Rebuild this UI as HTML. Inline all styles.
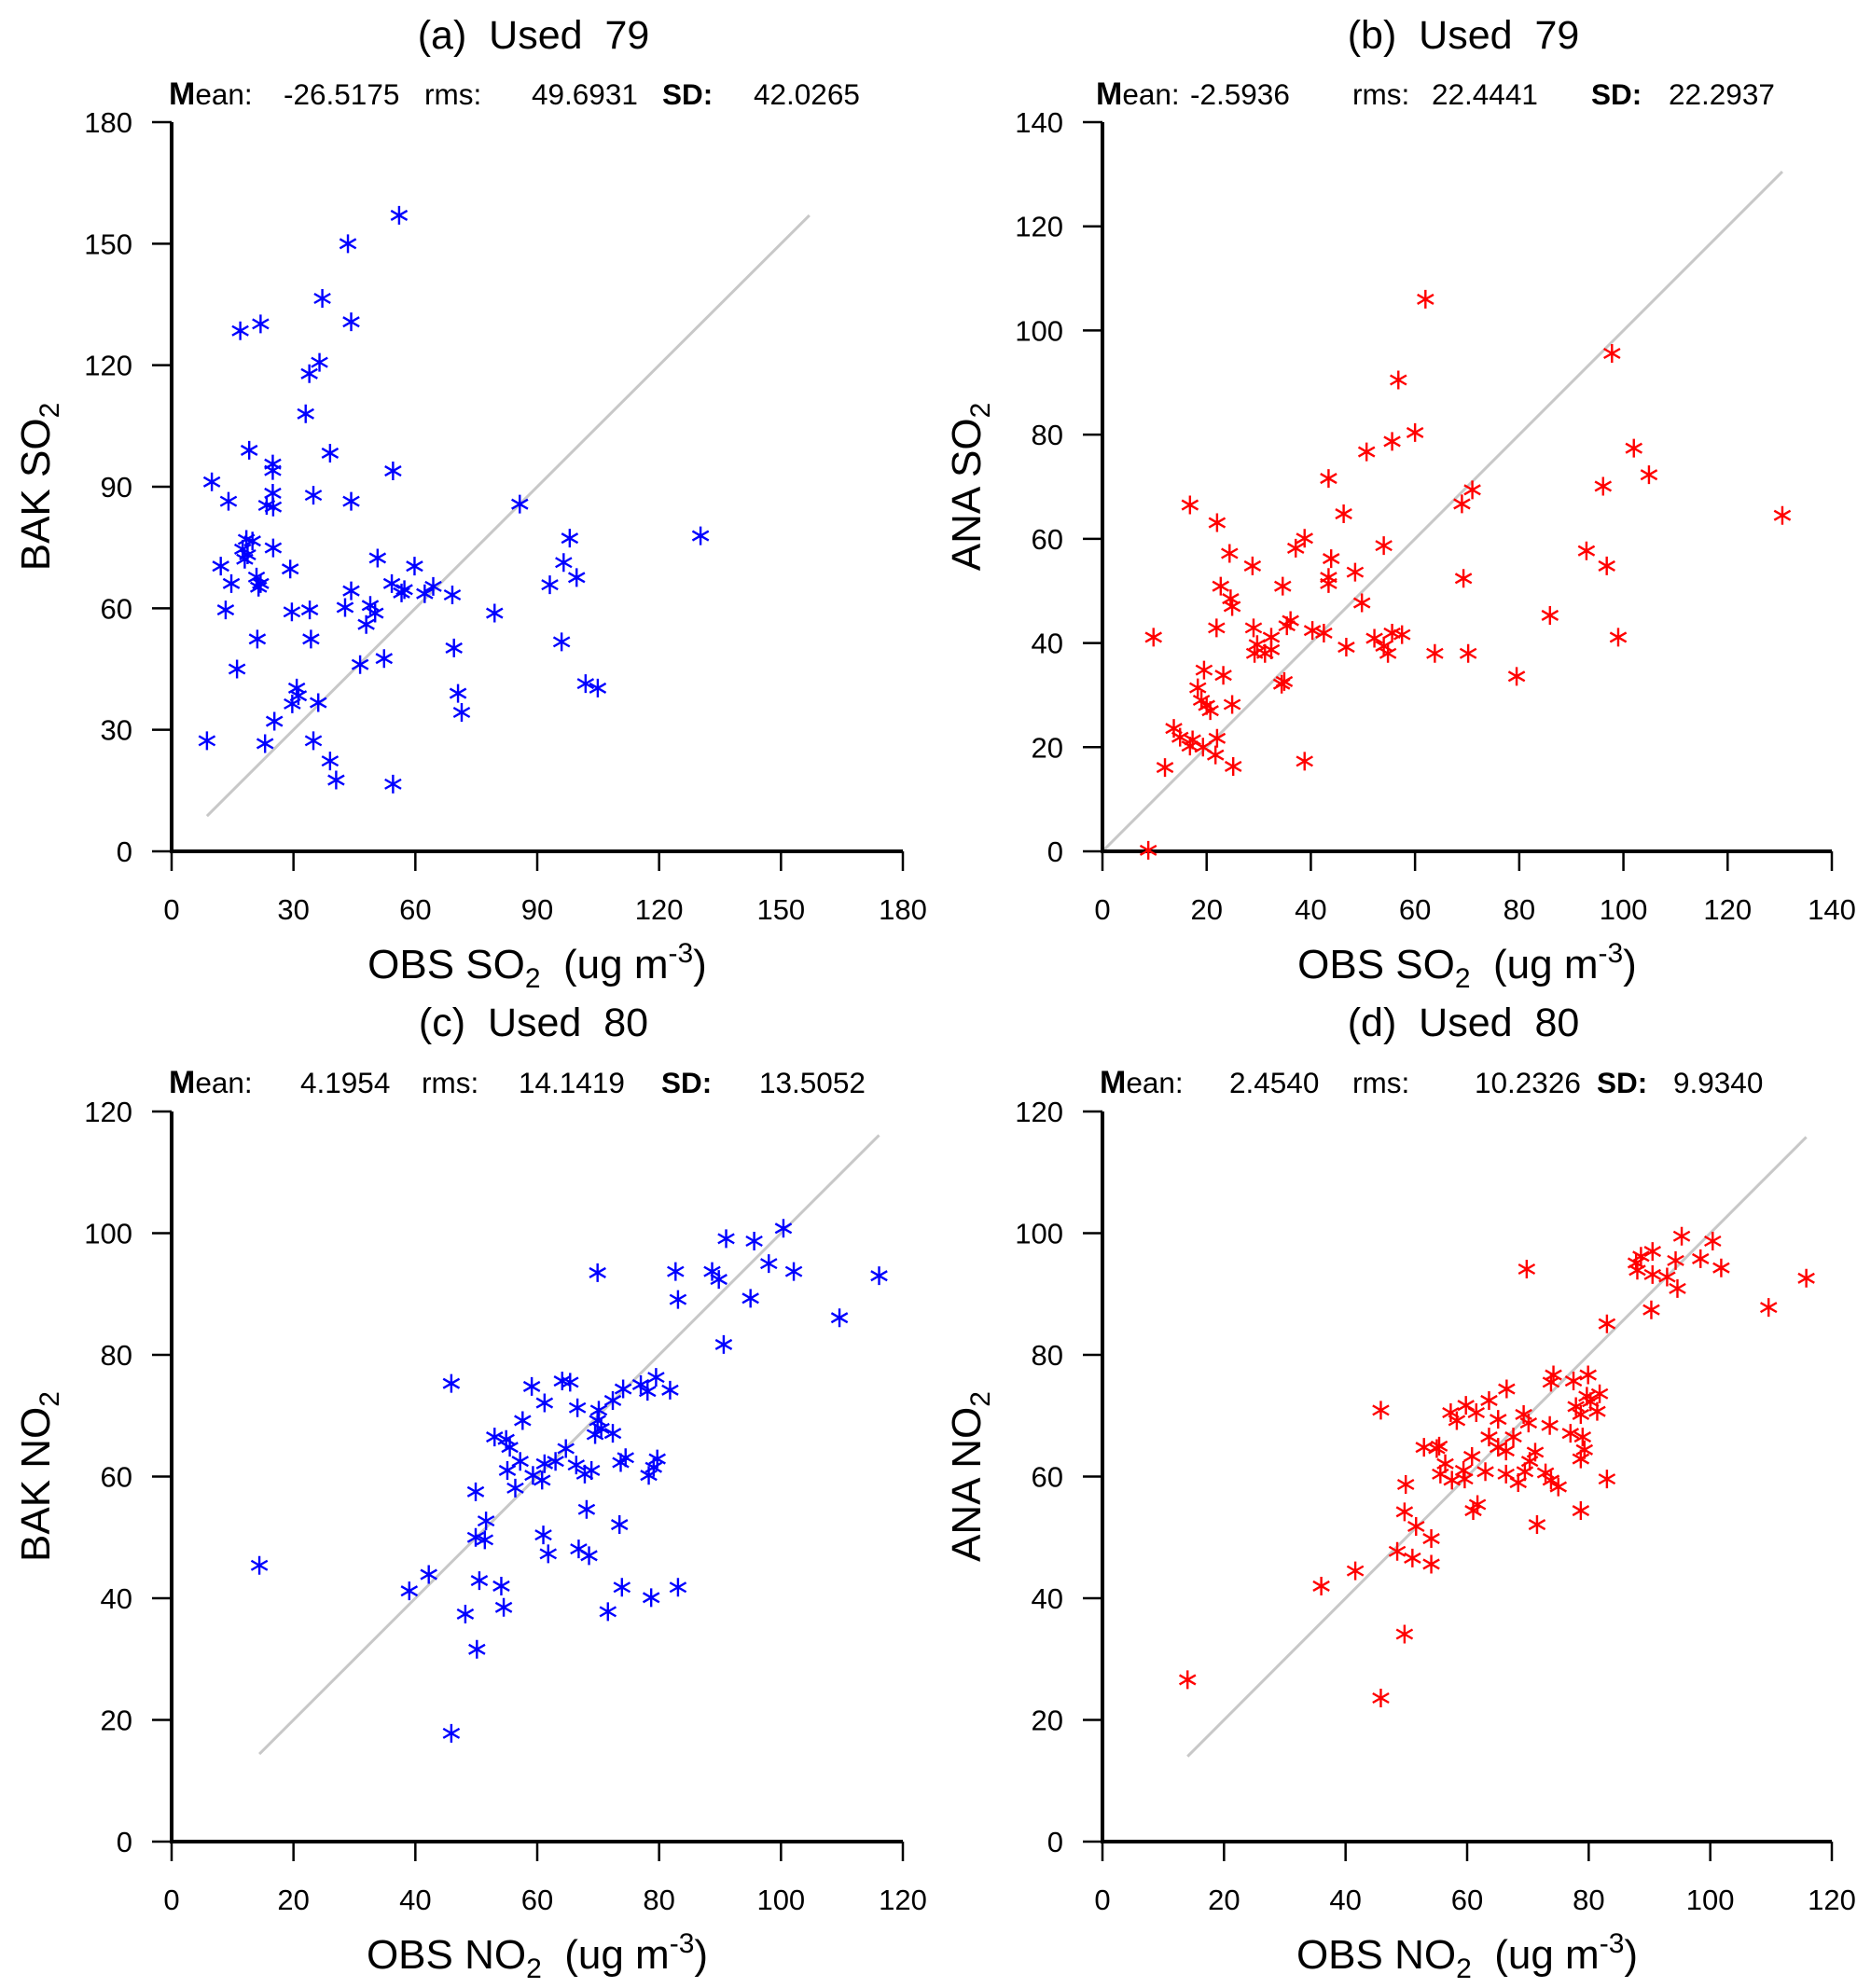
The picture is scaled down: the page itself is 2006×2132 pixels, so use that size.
<!DOCTYPE html>
<html><head><meta charset="utf-8">
<style>
html,body{margin:0;padding:0;background:#fff;}
svg{display:block;font-family:"Liberation Sans",Arial,sans-serif;}
svg text{white-space:pre;}
</style></head>
<body>
<svg id="fig" width="2006" height="2132" viewBox="0 0 2006 2132" xmlns="http://www.w3.org/2000/svg" xml:space="preserve"></svg>
<script>
// ---- data ----
const aObs=[56,43.4,37.1,44.2,16.9,21.9,36.4,33.9,33,19.1,39,9.9,54.5,24.9,24.9,14,44.2,34.9,24.9,23.4,25,85.7,130.2,98,18.4,19.9,17.5,18.7,18,25,12.1,29.2,50.7,59.8,96.5,99.7,20.9,21.9,21.4,14.7,44.2,54.2,57.3,56.6,62.3,64.4,69.1,93.1,13.3,29.6,34,42.7,48.9,50.1,47.9,79.5,21.1,34.3,96,69.5,52.3,46.4,16.1,70.5,71.4,101.9,104.9,30.8,31.2,29.7,36.1,25.3,8.7,23,34.9,39,40.5,54.5];
const aMod=[157,150,136.5,130.7,128.5,130.2,120.7,117.9,108,99,98.3,91.2,93.9,95.6,94,86.4,86.4,87.9,88.4,85.4,85,85.7,77.9,77.3,77,76.6,74.6,73.2,72.1,74.9,70.4,69.7,72.4,70.4,71.3,67.6,67.7,66.1,65.2,66.1,64.3,66.1,64.6,63.8,63.6,65.4,63.3,65.8,59.6,59.1,59.6,60.2,60.7,58.8,56,58.8,52.4,52.4,51.7,50.2,47.6,46.1,45,39,34.3,41.4,40.3,40.3,38.4,36.4,36.7,32.1,27.3,26.6,27.3,22.3,17.6,16.6];
const bObs=[62,97.8,56.8,102,60,55.6,50.7,104.9,71,96.1,69,43.4,16.8,130.5,46.3,38.8,37.1,54,92.9,22,24.4,43.9,96.8,28.8,48.5,43.4,43.4,34.6,22.7,69.3,24.6,24.9,49.8,85.9,36.1,35.4,29,40.3,42.5,55.6,57.5,52.2,32.4,9.8,99,21.9,29.7,32.4,46.8,54,54.8,63.8,70.2,31.2,29.2,79.5,34.4,34.9,19.5,23.2,18.3,19,24.9,20,20.7,13.7,14.9,17.3,22,16.8,19.3,21.7,25.1,38.8,12,8.8];
const bMod=[106,95.6,90.5,77.4,80.4,78.7,76.7,72.3,69.4,70.1,66.7,71.6,66.5,64.5,64.8,60.1,58.2,58.7,57.7,63.1,57.2,56.2,54.8,54.8,53.6,52.6,51.4,50.9,50.9,52.4,48.5,47,47.7,45.3,44.3,43.3,42.9,42.4,41.9,41.9,41.6,40.9,41.1,41.1,41.1,42.9,39.7,38.7,39.2,39.4,38,38,38,38,38,33.6,32.1,32.6,34.8,33.8,31.4,29,28.2,28,27,23.6,21.9,21.4,21.7,20.2,20,18.5,16.3,17.3,16.1,0.2];
const cObs=[100.4,91,95.6,98,82.7,88.7,69.9,89.8,102.1,116.1,95,83.1,109.6,90.6,45.9,64.1,65.4,59.1,79.5,77,78.1,81.8,74.1,72.4,66.6,70.1,61.2,57.6,69.9,70.5,69.5,72.4,53,54.9,55.5,64.7,74.5,79.7,79.1,78.3,57.2,61.2,59.3,63,66.4,68.9,67.8,73.7,55.1,60.8,56.4,68.1,49.9,51.6,73.5,61,49.9,51.4,66.8,61.8,68.5,14.4,50.5,42.2,39,54.1,73.9,83.1,78.7,54.5,48.2,71.6,50.1,45.9];
const cMod=[100.8,99.1,98.7,95,93.7,93.7,93.5,92.4,93.7,93,89.3,89.1,86.1,81.7,75.3,75.7,75.5,74.8,76.3,75.1,74,74.2,74.4,72.5,71.3,70.9,72.1,69.2,69.2,67.9,66.9,67.1,66.5,66.1,64.8,64.6,63.1,62.9,61.5,60.2,62.5,62.1,60.2,62.5,61.9,61,60.4,62.3,61,59.4,58.1,54.6,57.5,52.7,52.1,50.4,50,49.6,48.1,47.3,47,45.4,42.9,43.9,41.2,42,41.8,41.8,40.1,38.5,37.4,37.8,31.6,17.8];
const dObs=[95.3,100.4,90.5,88.6,98.4,87.8,94.3,101.8,69.8,88,90.5,115.8,92.9,94.6,109.6,90.3,83,79.9,74.2,77.5,73.8,66.5,81.8,79.7,80.3,77.9,78.7,59.8,63.6,61.5,57.3,58.3,45.8,81.4,69.3,70.1,65.1,73.6,77,67.6,63.6,79,79.3,52.9,55,55.4,65.1,66.4,71.2,78.7,70.3,60.8,59.4,83,55.6,56.4,63,66.4,69.5,72.9,68.4,73.8,75,59.6,57.5,49.9,61.7,61,78.7,49.7,71.5,51.6,54.1,48.5,51,54.1,36,41.6,49.7,14,45.8];
const dMod=[99.5,98.7,97,96.2,95.8,95.1,95.5,94.3,94.1,93.9,93.2,92.6,92.8,90.9,87.8,87.4,85.1,76.7,76.7,75.7,75.5,74.4,73.6,73.2,72.3,71.5,70.2,71.7,72.5,70.5,70.5,69.2,70.9,70.7,70.2,68.8,69.4,68.4,67.1,66.5,66.5,66.5,64.4,64.8,64.6,65,64.8,64.2,64,62.9,62.5,63.3,61,59.6,60.4,62.1,60.8,60.4,60.8,60.6,59,59.4,58.3,59.6,59.4,58.7,55.4,54.4,54.4,54.2,52.1,51.8,49.8,47.7,46.6,45.6,42,44.5,34.1,26.6,23.6];
const ticksA=[0,30,60,90,120,150,180];
const ticksB=[0,20,40,60,80,100,120,140];
const ticksC=[0,20,40,60,80,100,120];
const titles=["(a)  Used  79","(b)  Used  79","(c)  Used  80","(d)  Used  80"];
const statsMean=["-26.5175","-2.5936","4.1954","2.4540"];
const statsRms=["49.6931","22.4441","14.1419","10.2326"];
const statsSD=["42.0265","22.2937","13.5052","9.9340"];

const NS="http://www.w3.org/2000/svg";
const svg=document.getElementById('fig');
function mk(tag,attrs,parent){const e=document.createElementNS(NS,tag);for(const k in attrs)e.setAttribute(k,attrs[k]);(parent||svg).appendChild(e);return e;}

const panels=[
 {id:'a',L:184,R:968,T:131,B:913,max:180,ticks:ticksA,obs:aObs,mod:aMod,col:'#0000ff',yl:'BAK',sp:'SO',sx:[181,304,455,570,710,808],sy:112,ty:52,ytx:38},
 {id:'b',L:1182,R:1964,T:131,B:913,max:140,ticks:ticksB,obs:bObs,mod:bMod,col:'#ff0000',yl:'ANA',sp:'SO',sx:[1175,1276,1450,1535,1706,1789],sy:112,ty:52,ytx:1036},
 {id:'c',L:184,R:968,T:1192,B:1975,max:120,ticks:ticksC,obs:cObs,mod:cMod,col:'#0000ff',yl:'BAK',sp:'NO',sx:[181,322,452,556,709,814],sy:1172,ty:1111,ytx:38},
 {id:'d',L:1182,R:1964,T:1192,B:1975,max:120,ticks:ticksC,obs:dObs,mod:dMod,col:'#ff0000',yl:'ANA',sp:'NO',sx:[1179,1318,1450,1581,1712,1794],sy:1172,ty:1111,ytx:1036}
];

panels.forEach((p,i)=>{
 const g=mk('g',{});
 
 
 const xs=v=>p.L+(p.R-p.L)*v/p.max;
 const ys=v=>p.B-(p.B-p.T)*v/p.max;
 const cx=(p.L+p.R)/2, cy=(p.T+p.B)/2;
 const t=mk('text',{x:cx-4,y:p.ty,'font-size':43,'text-anchor':'middle'},g);
 t.textContent=titles[i];
 
 
 const st=mk('text',{y:p.sy,'font-size':31.5},g);
 
 
 const parts=[['M',true,p.sx[0]],['ean:',false,null],[statsMean[i],false,p.sx[1]],['rms:',false,p.sx[2]],[statsRms[i],false,p.sx[3]],['SD:',true,p.sx[4]],[statsSD[i],false,p.sx[5]]];
 parts.forEach(pt=>{const s=mk('tspan',pt[2]!==null?{x:pt[2]}:{},st);if(pt[1]){s.setAttribute('font-weight','bold');}if(pt[0]==='M')s.setAttribute('font-size','34');s.textContent=pt[0];});
 const all=p.obs.concat(p.mod);
 const mn=Math.min(...all), mx=Math.max(...all);
 const dl=mk('line',{x1:xs(mn),y1:ys(mn),x2:xs(mx),y2:ys(mx),stroke:'#c8c8c8','stroke-width':3},g);
 
 
 const ax=mk('path',{d:`M${p.L},${p.T}V${p.B}H${p.R}`,fill:'none',stroke:'#000','stroke-width':4},g);
 
 
 p.ticks.forEach(v=>{
  const yt=mk('line',{x1:p.L-21,x2:p.L,y1:ys(v),y2:ys(v),stroke:'#000','stroke-width':2.5},g);
  
  
  const yl=mk('text',{x:p.L-42,y:ys(v)+11,'font-size':31,'text-anchor':'end'},g);
  yl.textContent=v;
  
  
  const xt=mk('line',{x1:xs(v),x2:xs(v),y1:p.B,y2:p.B+21,stroke:'#000','stroke-width':2.5},g);
  
  
  const xl=mk('text',{x:xs(v),y:p.B+73,'font-size':31,'text-anchor':'middle'},g);
  xl.textContent=v;
  
  
 });
 const xtt=mk('text',{x:cx,y:p.B+136,'font-size':44,'text-anchor':'middle'},g);
 xtt.innerHTML='OBS '+p.sp+'<tspan font-size="30" dy="10">2</tspan><tspan dy="-10">  (ug m</tspan><tspan font-size="30" dy="-17">-3</tspan><tspan dy="17">)</tspan>';
 
 
 const ytt=mk('text',{x:0,y:0,'font-size':44,'text-anchor':'middle',transform:`translate(${p.ytx+15},${cy}) rotate(-90)`},g);
 ytt.innerHTML=p.yl+' '+p.sp+'<tspan font-size="30" dy="10">2</tspan>';
 
 
 const r=10;
 p.obs.forEach((o,k)=>{
  const X=xs(o), Y=ys(p.mod[k]);
  const d=`M${X},${Y-r}V${Y+r}M${X-r*0.866},${Y-r*0.5}L${X+r*0.866},${Y+r*0.5}M${X-r*0.866},${Y+r*0.5}L${X+r*0.866},${Y-r*0.5}`;
  const m=mk('path',{d:d,stroke:p.col,'stroke-width':2.4,fill:'none'},g);
  
  
 });
});
</script>
</body></html>
